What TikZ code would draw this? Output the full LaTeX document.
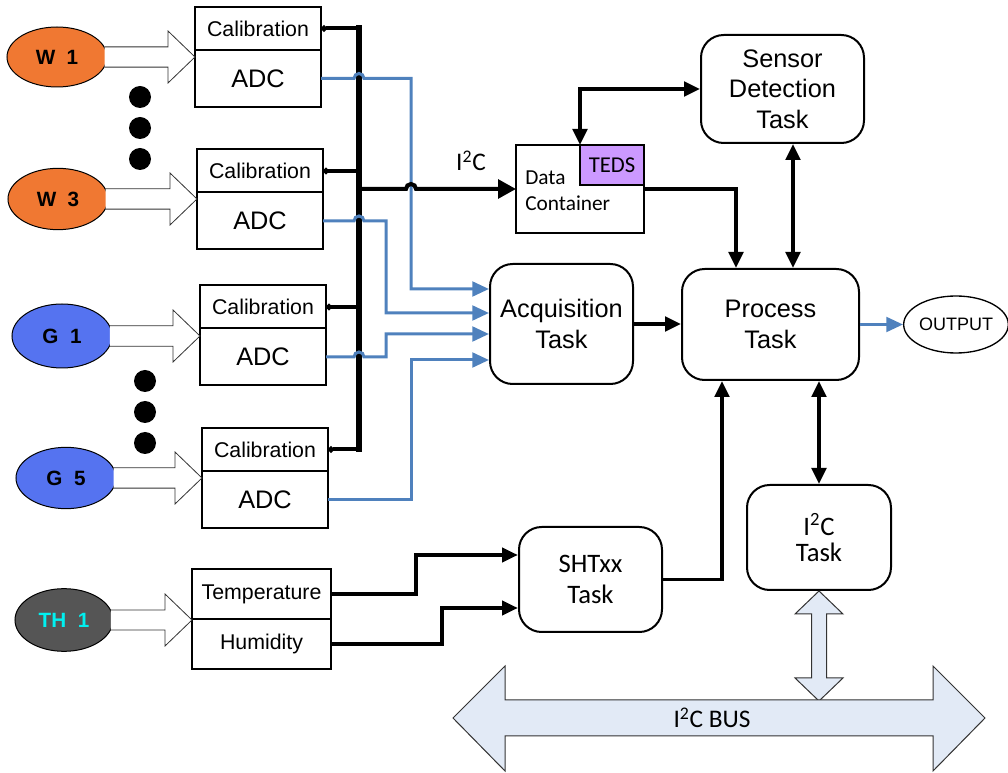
\documentclass[tikz,border=0pt]{standalone}
\usepackage{fontspec}
\setmainfont{Liberation Sans}
\newfontfamily\calibri{Carlito}
\usetikzlibrary{
    calc,
    positioning,
    arrows.meta,
    shapes.geometric
}
\definecolor{wOrange}{RGB}{240,120,50}
\definecolor{gBlue}{RGB}{85,115,240}
\definecolor{thGray}{RGB}{85,85,85}
\definecolor{thCyan}{RGB}{0,240,240}
\definecolor{lineBlue}{RGB}{79,129,189}
\definecolor{tedsPurple}{RGB}{204,153,255}
\definecolor{busBlue}{RGB}{226,234,246}
\tikzset{
  sensor/.style={ellipse,draw,line width=0.75pt,inner sep=0pt,
    minimum width=75pt,minimum height=46pt,
    font=\fontsize{15.5}{16}\selectfont\bfseries},
  calbox/.style={draw,line width=1.5pt,outer sep=0pt,inner sep=0pt,
    minimum width=94.5pt,minimum height=32.25pt,
    font=\fontsize{16}{18}\selectfont},
  adcbox/.style={calbox,minimum height=42.75pt,
    font=\fontsize{19}{21}\selectfont},
  thbox/.style={calbox,minimum width=104.25pt,minimum height=37.5pt},
  task/.style={draw,line width=1.5pt,rounded corners=17pt,align=center,
    inner sep=0pt,font=\fontsize{19}{23}\selectfont},
  ctask/.style={task,font=\calibri\fontsize{20}{23}\selectfont},
  fat arrow/.style={draw=black!80,line width=0.6pt,fill=white},
  bus arrow/.style={draw=black!80,line width=0.75pt,fill=busBlue},
  bus line/.style={line width=4.5pt,line cap=rect},
  cal line/.style={line width=3pt,{Circle[length=4.5pt]}-},
  i2c line/.style={line width=3pt,-{Triangle[length=13.5pt,width=14pt]}},
  task line/.style={line width=2.5pt},
  th line/.style={line width=3pt,-{Triangle[length=12pt,width=10.5pt]}},
  adc line/.style={line width=2.25pt,lineBlue,-{Triangle[length=12.5pt,width=11pt]}},
  >={Triangle[length=12pt,width=11pt]}
}
\newcommand{\FatArrow}[2]{%
  \coordinate (FAt) at (#1.east -| #2.west);
  \coordinate (FAb) at ($(FAt)+(-27,0)$);
  \draw[fat arrow] (#1.12) -- (#1.12 -| FAb) -- ($(FAb)+(0,-26)$)
    -- (FAt) -- ($(FAb)+(0,26)$) -- (#1.-12 -| FAb) -- (#1.-12);
}

\begin{document}
\begin{tikzpicture}[x=0.75pt,y=-0.75pt]
\useasboundingbox (0,0) rectangle (1008,773);
% sensors
\node[sensor,fill=wOrange,minimum height=45pt] (w1) at (57,57) {W~~1};
\node[sensor,fill=wOrange] (w3) at (58,199) {W~~3};
\node[sensor,fill=gBlue,minimum height=48pt] (g1) at (62,336) {G~~1};
\node[sensor,fill=gBlue] (g5) at (66,478) {G~~5};
\node[sensor,fill=thGray,text=thCyan,minimum width=73.5pt,minimum height=47pt] (th1) at (64,620) {TH~~1};
\foreach \y in {97,128,159} \fill (140,\y) circle (8.25pt);
\foreach \y in {381,412,443} \fill (145,\y) circle (8.25pt);
% calibration / adc blocks
\node[calbox] (cal1) at (258,28.5) {Calibration};
\node[adcbox,below=0pt of cal1] (adc1) {ADC};
\node[calbox] (cal2) at (260,171) {Calibration};
\node[adcbox,below=0pt of cal2] (adc2) {ADC};
\node[calbox] (cal3) at (263,307) {Calibration};
\node[adcbox,below=0pt of cal3] (adc3) {ADC};
\node[calbox] (cal4) at (265,449.5) {Calibration};
\node[adcbox,below=0pt of cal4] (adc4) {ADC};
\node[thbox] (temp) at (261.5,594) {Temperature};
\node[thbox,below=0pt of temp] (hum) {Humidity};
\FatArrow{w1}{cal1}
\FatArrow{w3}{cal2}
\FatArrow{g1}{cal3}
\FatArrow{g5}{cal4}
\FatArrow{th1}{temp}
% tasks
\node[task,minimum width=107.25pt,minimum height=90pt] (acq) at (561.5,324) {Acquisition\\Task};
\node[task,minimum width=132.75pt,minimum height=83.25pt] (proc) at (770.5,324.5) {Process\\Task};
\node[task,minimum width=122.25pt,minimum height=81pt] (sens) at (782.5,89) {Sensor\\Detection\\Task};
\node[ctask,minimum width=108pt,minimum height=78.75pt,font=\calibri\fontsize{20}{19.5}\selectfont] (i2ct) at (819,537.5) {I\textsuperscript{2}C\\Task};
\node[ctask,minimum width=107.25pt,minimum height=78.75pt] (sht) at (590.5,579.5) {SHTxx\\Task};
\node[ellipse,draw,line width=1pt,inner sep=0pt,minimum width=75pt,minimum height=42.75pt,
  font=\fontsize{13.5}{15}\selectfont] (out) at (956,324.5) {OUTPUT};
% data container
\node[draw,line width=1.5pt,outer sep=0pt,minimum width=96pt,minimum height=66pt] (dc) at (580,189) {};
\node[draw,line width=1.5pt,outer sep=0pt,fill=tedsPurple,minimum width=48pt,minimum height=30pt,
  anchor=north east,inner sep=0pt,font=\calibri\fontsize{17}{19}\selectfont] (teds) at (dc.north east) {TEDS};
\node[anchor=west,align=left,inner sep=0pt,font=\calibri\fontsize{16}{19.5}\selectfont] (dctext) at (525,191) {Data\\Container};
\node[font=\calibri\fontsize{19}{22}\selectfont] (i2clab) at (471,161) {I\textsuperscript{2}C};
% bus and connectors
\coordinate (busx) at (359,0);
\coordinate (midx) at (386,0);
\coordinate (bluex) at (411,0);
\draw[bus line] (cal1.east -| busx) -- (cal4.east -| busx);
\foreach \c in {cal1,cal2,cal3,cal4}
  \draw[cal line] (\c.east) -- (\c.east -| busx);
\draw[adc line] (adc1.east) -- ($(adc1.east -| busx)+(-5,0)$)
  arc[start angle=180,end angle=0,radius=3.75pt] -- (adc1.east -| bluex) |- ($(acq.west)+(0,-35)$);
\draw[adc line] (adc2.east) -- ($(adc2.east -| busx)+(-5,0)$)
  arc[start angle=180,end angle=0,radius=3.75pt] -- (adc2.east -| midx) |- ($(acq.west)+(0,-11)$);
\draw[adc line] (adc3.east) -- ($(adc3.east -| busx)+(-5,0)$)
  arc[start angle=180,end angle=0,radius=3.75pt] -- (adc3.east -| midx) |- ($(acq.west)+(0,10)$);
\draw[adc line] (adc4.east) -- (adc4.east -| bluex) |- ($(acq.west)+(0,36)$);
\draw[i2c line] (dc.west -| busx) -- ($(dc.west -| bluex)+(-5,0)$)
  arc[start angle=180,end angle=0,radius=3.75pt] -- (dc.west);
\draw[task line,->] (acq.east) -- (acq.east -| proc.west);
\draw[task line,->] (dc.east) -| ($(proc.north west)+(55,0)$);
\draw[task line,<->] ($(sens.south)+(10.5,0)$) -- ($(proc.north)+(22.5,0)$);
\draw[task line,<->] (teds.north west) |- (sens.west);
\draw[task line,<->] ($(proc.south)+(48.5,0)$) -- (i2ct.north);
\draw[task line,->] (sht.east) -| ($(proc.south)+(-48.5,0)$);
\draw[th line] (temp.east) -- ++(85,0) |- ($(sht.west)+(0,-24.5)$);
\draw[th line] (hum.east) -- ++(111,0) |- ($(sht.west)+(0,28.5)$);
\draw[adc line] (proc.east) -- (out.west);
% i2c bus
\draw[bus arrow] (i2ct.south) -- ++(24,23) -- ++(-16.5,0) -- ++(0,64) -- ++(16.5,0)
  -- ++(-24,23) -- ++(-24,-23) -- ++(16.5,0) -- ++(0,-64) -- ++(-16.5,0) -- cycle;
\draw[bus arrow] (453,718) -- (505,666) -- (505,700) -- (933,700) -- (933,666) -- (985,718)
  -- (933,771) -- (933,736) -- (505,736) -- (505,771) -- cycle;
\node[font=\calibri\fontsize{19}{22}\selectfont] (buslab) at (712,718) {I\textsuperscript{2}C BUS};
\end{tikzpicture}
\end{document}
